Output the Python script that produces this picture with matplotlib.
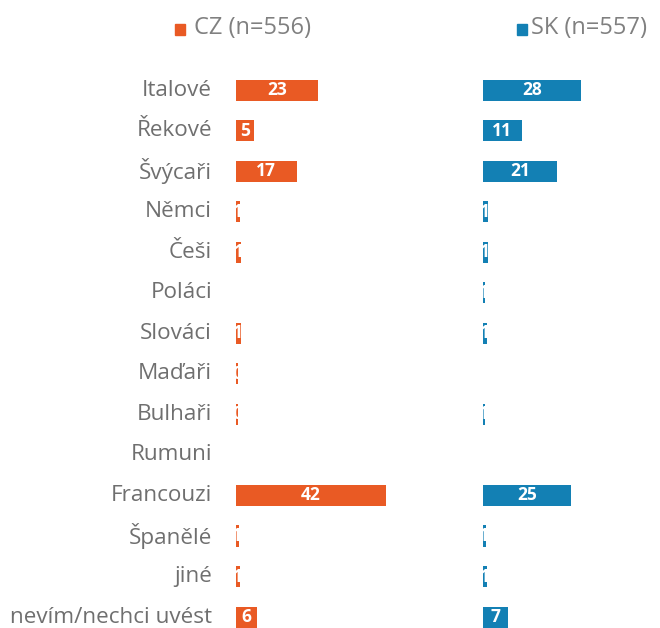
import matplotlib
matplotlib.use("Agg")
import matplotlib.pyplot as plt
import numpy as np

CZ_COL = "#E95A24"
SK_COL = "#1380B4"
LABEL = "#6f6f6f"
LEGEND = "#808080"

categories = ["Italové", "Řekové", "Švýcaři", "Němci", "Češi", "Poláci", "Slováci",
              "Maďaři", "Bulhaři", "Rumuni", "Francouzi", "Španělé", "jiné",
              "nevím/nechci uvést"]
cz = [23, 5, 17, 1.2, 1.4, 0, 1.3, 0.5, 0.5, 0, 42, 0.8, 1.2, 6]
sk = [28, 11, 21, 1.3, 1.3, 0.6, 1.2, 0, 0.7, 0, 25, 0.8, 1.1, 7]

plt.rcParams.update({"font.family": ["Open Sans", "DejaVu Sans"]})

W, H = 660, 628
fig = plt.figure(figsize=(W / 100, H / 100), dpi=100)
fig.patch.set_facecolor("white")

top_px, bot_px = 70, 628
ax_cz = fig.add_axes([236 / W, 1 - bot_px / H, 214 / W, (bot_px - top_px) / H])
ax_sk = fig.add_axes([483 / W, 1 - bot_px / H, 175 / W, (bot_px - top_px) / H])

y = np.arange(len(categories))
for ax, vals, col, xmax in [(ax_cz, cz, CZ_COL, 60), (ax_sk, sk, SK_COL, 50)]:
    ax.barh(y, vals, height=0.52, color=col)
    for yi, v in zip(y, vals):
        if v <= 0:
            continue
        ax.text(v / 2, yi, f"{int(round(v))}", ha="center", va="center",
                color="white", fontsize=12.5, fontweight="bold", clip_on=True)
    ax.set_xlim(0, xmax)
    ax.set_ylim(13.27, -0.5)
    ax.axis("off")

for yi, name in zip(y, categories):
    ax_cz.annotate(name, xy=(0, yi), xycoords="data", xytext=(-24, 0),
                   textcoords="offset pixels", ha="right", va="center",
                   color=LABEL, fontsize=16.2)

# legend
fig.patches.append(plt.Rectangle((175 / W, 1 - 35 / H), 10 / W, 11 / H,
                                 transform=fig.transFigure, color=CZ_COL))
fig.text(194 / W, 1 - 28 / H, "CZ (n=556)", color=LEGEND, fontsize=17,
         va="center", ha="left")
fig.patches.append(plt.Rectangle((517 / W, 1 - 35 / H), 10 / W, 11 / H,
                                 transform=fig.transFigure, color=SK_COL))
fig.text(531 / W, 1 - 28 / H, "SK (n=557)", color=LEGEND, fontsize=17,
         va="center", ha="left")

fig.savefig("out.png", dpi=100, facecolor="white")
